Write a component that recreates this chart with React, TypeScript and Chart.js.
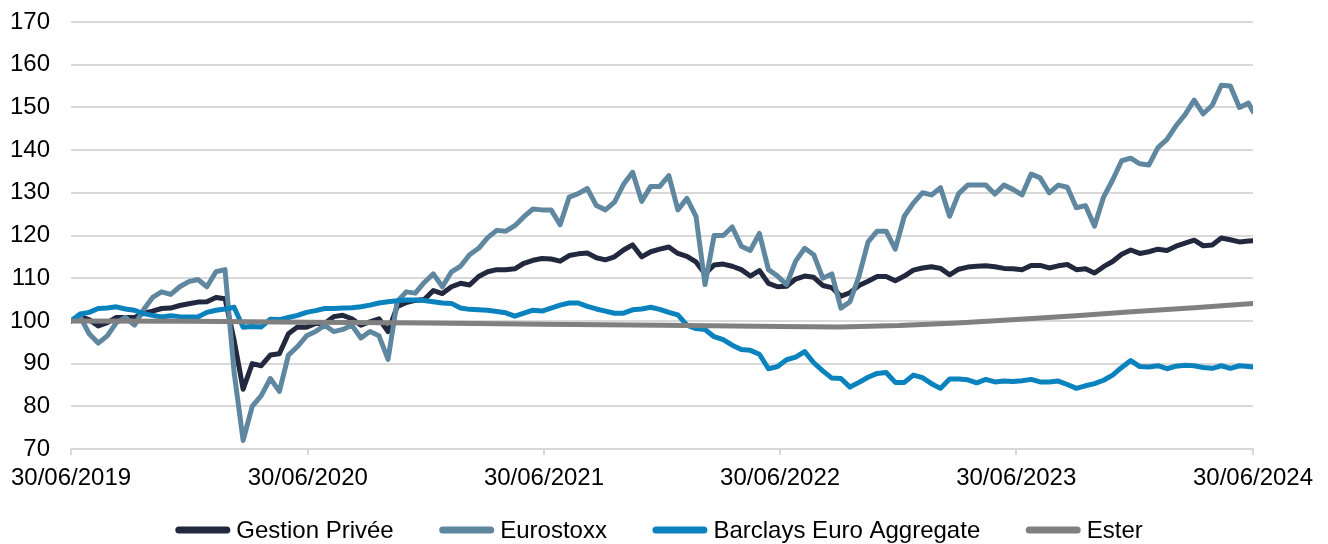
import React, { useEffect, useRef } from "react";
import { Chart, registerables } from "chart.js";

Chart.register(...registerables);

// ---- data ----
const seriesNames = ["Gestion Privée", "Eurostoxx", "Barclays Euro Aggregate", "Ester"];
const seriesColors = ["#22283d", "#5f87a0", "#0a82bd", "#808080"];

const startDate = "2019-06-30";
const endDate = "2024-06-30";
const sampleStepDays = 14; // one reading every two weeks, last reading on endDate

const tickDates = ["2019-06-30", "2020-06-30", "2021-06-30", "2022-06-30", "2023-06-30", "2024-06-30"];
const tickLabels = ["30/06/2019", "30/06/2020", "30/06/2021", "30/06/2022", "30/06/2023", "30/06/2024"];

const gestionPrivee = [
  100, 101, 100.3, 98.8, 99.6, 100.8, 100.8, 100.8, 101.8, 102.3,
  102.9, 103, 103.6, 104, 104.4, 104.5, 105.5, 105.2, 95.5, 84,
  90, 89.5, 92, 92.3, 97, 98.6, 98.5, 99.4, 99.4, 101,
  101.3, 100.5, 99, 99.8, 100.5, 97.5, 103.3, 104.3, 104.8, 105,
  107.1, 106.4, 108, 108.8, 108.4, 110.4, 111.5, 112, 112, 112.2,
  113.5, 114.2, 114.6, 114.5, 114, 115.3, 115.7, 115.9, 114.8, 114.3,
  115, 116.6, 117.8, 115, 116.2, 116.8, 117.3, 115.8, 115.1, 113.8,
  111, 113.1, 113.3, 112.8, 112, 110.5, 111.8, 108.8, 108, 108.1,
  109.8, 110.5, 110.2, 108.3, 107.8, 105.8, 106.6, 108.3, 109.3, 110.4,
  110.4, 109.4, 110.5, 111.9, 112.4, 112.7, 112.3, 110.8, 112.1, 112.6,
  112.8, 112.9, 112.7, 112.3, 112.2, 112, 113, 113, 112.4, 112.9,
  113.2, 112, 112.2, 111.2, 112.7, 113.9, 115.6, 116.6, 115.8, 116.2,
  116.8, 116.5, 117.5, 118.2, 118.9, 117.6, 117.8, 119.4, 119, 118.5,
  118.7, 118.8,
];

const eurostoxx = [
  100, 101, 97, 94.8, 96.5, 99.6, 100.8, 99, 102.6, 105.5,
  106.8, 106.2, 108, 109.2, 109.7, 108, 111.5, 112, 88, 72,
  80, 82.5, 86.5, 83.5, 92, 94, 96.5, 97.5, 99, 97.5,
  98, 99, 96, 97.5, 96.5, 91, 104.5, 106.8, 106.5, 109,
  111, 108, 111.5, 112.8, 115.5, 117, 119.5, 121.2, 121, 122.3,
  124.4, 126.2, 126, 126, 122.5, 129, 129.8, 131, 127, 126,
  127.8, 132, 134.8, 128, 131.5, 131.5, 134, 126, 128.7, 124.5,
  108.5, 120, 120, 122, 117.5, 116.5, 120.5, 112, 110.5, 108.5,
  114, 117, 115.5, 110, 111, 103, 104.5, 110.5, 118.5, 121,
  121, 116.8, 124.5, 127.6, 130, 129.5, 131.2, 124.5, 129.8, 131.8,
  131.8, 131.8, 129.7, 131.8, 130.8, 129.5, 134.4, 133.5, 130, 131.8,
  131.3, 126.5, 127, 122.2, 129, 133, 137.5, 138.1, 136.8, 136.5,
  140.6, 142.5, 145.7, 148.3, 151.7, 148.5, 150.5, 155.2, 155, 150,
  151, 149,
];

const barclaysEuroAggregate = [
  100, 101.6, 102, 102.9, 103, 103.3, 102.8, 102.5, 101.7, 101.3,
  100.9, 101.2, 101, 100.9, 100.9, 102, 102.5, 102.8, 103.2, 98.5,
  98.7, 98.6, 100.4, 100.3, 100.8, 101.3, 102, 102.4, 102.9, 102.9,
  103, 103.1, 103.3, 103.7, 104.2, 104.5, 104.7, 104.9, 104.9, 104.8,
  104.5, 104.2, 104.1, 103, 102.7, 102.6, 102.5, 102.2, 101.9, 101.1,
  101.8, 102.5, 102.3, 103, 103.7, 104.2, 104.2, 103.4, 102.8, 102.3,
  101.8, 101.8, 102.6, 102.8, 103.2, 102.7, 102, 101.4, 99, 98.2,
  98, 96.3, 95.6, 94.3, 93.3, 93.1, 92.2, 88.8, 89.3, 90.9,
  91.5, 92.8, 90.2, 88.3, 86.6, 86.5, 84.5, 85.6, 86.8, 87.7,
  87.9, 85.6, 85.6, 87.3, 86.7, 85.3, 84.2, 86.4, 86.4, 86.2,
  85.5, 86.3, 85.7, 85.9, 85.8, 86, 86.3, 85.7, 85.7, 85.9,
  85.1, 84.2, 84.8, 85.3, 86.1, 87.3, 89.1, 90.7, 89.3, 89.2,
  89.5, 88.8, 89.4, 89.6, 89.5, 89.1, 88.9, 89.5, 88.9, 89.5,
  89.3, 89.2,
];

const esterDates = [
  "2019-06-30", "2019-12-31", "2020-06-30", "2020-12-31", "2021-06-30",
  "2021-12-31", "2022-06-30", "2022-09-30", "2022-12-31", "2023-03-31",
  "2023-06-30", "2023-09-30", "2023-12-31", "2024-03-31", "2024-06-30",
];
const esterValues = [
  100, 99.9, 99.7, 99.5, 99.2,
  99.0, 98.7, 98.6, 98.9, 99.5,
  100.3, 101.2, 102.2, 103.1, 104.1,
];

// ---- helpers ----
const dayOf = (iso: string) => {
  const [y, m, d] = iso.split("-").map(Number);
  const [y0, m0, d0] = startDate.split("-").map(Number);
  return Math.round((Date.UTC(y, m - 1, d) - Date.UTC(y0, m0 - 1, d0)) / 86400000);
};
const lastDay = dayOf(endDate);
const sampled = (values: number[]) =>
  values.map((v, i) => ({ x: i === values.length - 1 ? lastDay : i * sampleStepDays, y: v }));
const tickDays = tickDates.map(dayOf);

const FONT = "'Liberation Sans', Arial, Helvetica, sans-serif";

// legend drawn at the bottom, centred under the plot
const bottomLegend = {
  id: "bottomLegend",
  afterDraw(chart: any) {
    const { ctx, chartArea } = chart;
    const lineLen = 48;
    const lineW = 7;
    const textGap = 6;
    const itemGap = 45.5;
    const y = 530;
    ctx.save();
    ctx.font = `24px ${FONT}`;
    const items = chart.data.datasets.map((ds: any) => ({
      label: ds.label as string,
      color: ds.borderColor as string,
      w: ctx.measureText(ds.label).width,
    }));
    const itemWidth = (it: any) => lineLen + lineW + textGap + it.w;
    const total = items.reduce((s: number, it: any) => s + itemWidth(it), 0) + itemGap * (items.length - 1);
    let x = (chartArea.left + chartArea.right) / 2 - 3 - total / 2;
    ctx.textBaseline = "middle";
    ctx.textAlign = "left";
    for (const it of items) {
      ctx.beginPath();
      ctx.lineCap = "round";
      ctx.lineWidth = lineW;
      ctx.strokeStyle = it.color;
      ctx.moveTo(x + lineW / 2, y);
      ctx.lineTo(x + lineW / 2 + lineLen, y);
      ctx.stroke();
      ctx.fillStyle = "#000";
      ctx.fillText(it.label, x + lineLen + lineW + textGap, y + 1);
      x += itemWidth(it) + itemGap;
    }
    ctx.restore();
  },
};

export default function App() {
  const ref = useRef<HTMLCanvasElement | null>(null);

  useEffect(() => {
    document.body.style.margin = "0";
    const canvas = ref.current;
    if (!canvas) return;
    const seriesData = [
      sampled(gestionPrivee),
      sampled(eurostoxx),
      sampled(barclaysEuroAggregate),
      esterDates.map((d, i) => ({ x: dayOf(d), y: esterValues[i] })),
    ];
    const chart = new Chart(canvas, {
      type: "line",
      data: {
        datasets: seriesNames.map((name, i) => ({
          label: name,
          data: seriesData[i],
          borderColor: seriesColors[i],
          backgroundColor: seriesColors[i],
          borderWidth: 5,
          pointRadius: 0,
          tension: 0,
          borderJoinStyle: "round" as const,
          borderCapStyle: "round" as const,
          order: seriesNames.length - i,
        })),
      },
      options: {
        animation: false,
        responsive: false,
        events: [],
        layout: { padding: { left: 9, right: 75, top: 22, bottom: 52 } },
        scales: {
          x: {
            type: "linear",
            min: 0,
            max: lastDay,
            afterBuildTicks: (scale: any) => {
              scale.ticks = tickDays.map((v) => ({ value: v }));
            },
            afterFit: (scale: any) => {
              scale.height = 43;
            },
            ticks: {
              autoSkip: false,
              maxRotation: 0,
              padding: 11,
              color: "#000",
              font: { size: 24, family: FONT, lineHeight: 1 },
              callback: (v: any) => {
                const k = tickDays.indexOf(Number(v));
                return k >= 0 ? tickLabels[k] : "";
              },
            },
            grid: {
              drawOnChartArea: false,
              drawTicks: true,
              tickLength: 6,
              color: "#d9d9d9",
              lineWidth: 2,
            },
            border: { display: true, color: "#d9d9d9", width: 2 },
          },
          y: {
            min: 70,
            max: 170,
            afterFit: (scale: any) => {
              scale.width = 61;
              scale.paddingTop = 0;
              scale.paddingBottom = 0;
            },
            ticks: {
              stepSize: 10,
              padding: 21,
              color: "#000",
              font: { size: 24, family: FONT },
            },
            grid: { color: "#d9d9d9", lineWidth: 2, drawTicks: false },
            border: { display: false },
          },
        },
        plugins: {
          tooltip: { enabled: false },
          legend: { display: false },
        },
      },
      plugins: [bottomLegend],
    } as any);
    return () => chart.destroy();
  }, []);

  return (
    <div style={{ width: 1328, height: 544 }}>
      <canvas ref={ref} width={1328} height={544} style={{ display: "block" }} />
    </div>
  );
}
